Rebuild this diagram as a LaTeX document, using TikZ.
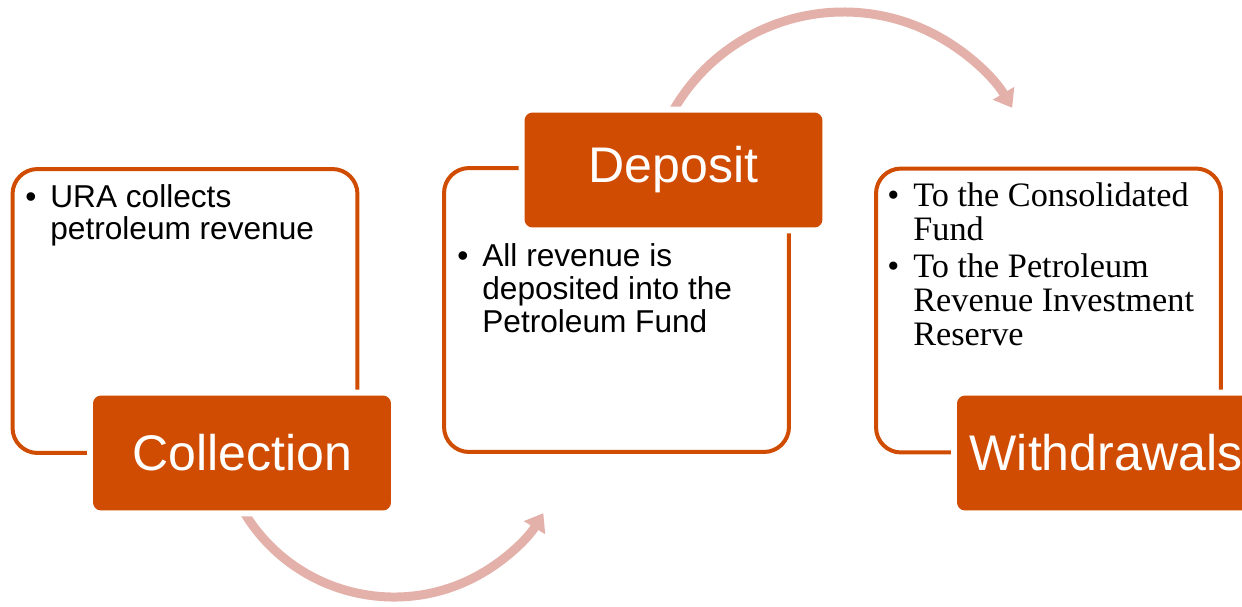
\documentclass[tikz,border=0pt]{standalone}
\usepackage{fontspec}
\setmainfont{Liberation Sans}
\newfontfamily\serifbody{Liberation Serif}
\usetikzlibrary{arrows.meta}
\definecolor{fundorange}{RGB}{208,76,2}
\definecolor{arrowpink}{RGB}{228,177,170}
\newcommand{\bitem}[2][0.5cm]{\makebox[#1][l]{\textbullet}\parbox[t]{6.5cm}{#2}}

\tikzset{
  panel/.style={draw=fundorange, line width=0.08cm, rounded corners=0.5cm,
    minimum width=6.9cm, minimum height=5.68cm, inner sep=0pt},
  stage/.style={fill=fundorange, rounded corners=0.16cm, inner sep=0pt,
    minimum width=5.96cm, minimum height=2.3cm, text=white,
    font=\fontsize{28.5}{30}\selectfont,
    preaction={draw=white, line width=0.24cm}},
  bullettext/.style={anchor=base west, inner sep=0pt,
    font=\fontsize{18}{18.2}\selectfont},
  cyclearrow/.style={draw=arrowpink, line width=0.18cm,
    -{Triangle[width=0.48cm,length=0.34cm]}}
}

\begin{document}
\begin{tikzpicture}[x=0.02cm, y=-0.02cm]
\useasboundingbox (0,0) rectangle (1242,606);
\clip (0,0) rectangle (1242,606);

\coordinate (collectout) at (242.4,509.5);
\coordinate (depositout) at (671.7,113.2);
\draw[cyclearrow] (collectout) arc[start angle=150, end angle=31.4, radius=175];
\draw[cyclearrow] (depositout) arc[start angle=209, end angle=329.2, radius=196.4];

\node[panel] (collectpanel) at (185,311) {};
\node[panel] (depositpanel) at (616.5,310) {};
\node[panel] (withdrawpanel) at (1048.5,310.5) {};

\node[bullettext] (collecttext) at (25,207.7)
  {\bitem{URA collects\\petroleum revenue}};
\node[bullettext, font=\fontsize{18}{18.8}\selectfont] (deposittext) at (457,266.7)
  {\bitem{All revenue is\\deposited into the\\Petroleum Fund}};
\node[bullettext, font=\serifbody\fontsize{19.5}{19.1}\selectfont] (withdrawtext) at (887,206.7)
  {\parbox[t]{7cm}{\bitem[0.52cm]{To the Consolidated\\Fund}\par\prevdepth=0pt\vskip 0.076cm
   \bitem[0.52cm]{To the Petroleum\\Revenue Investment\\Reserve}}};

\node[stage] (collect) at (242,453) {Collection};
\node[stage] (deposit) at (673.5,170) {Deposit};
\node[stage] (withdraw) at (1106,453) {Withdrawals};
\end{tikzpicture}
\end{document}
